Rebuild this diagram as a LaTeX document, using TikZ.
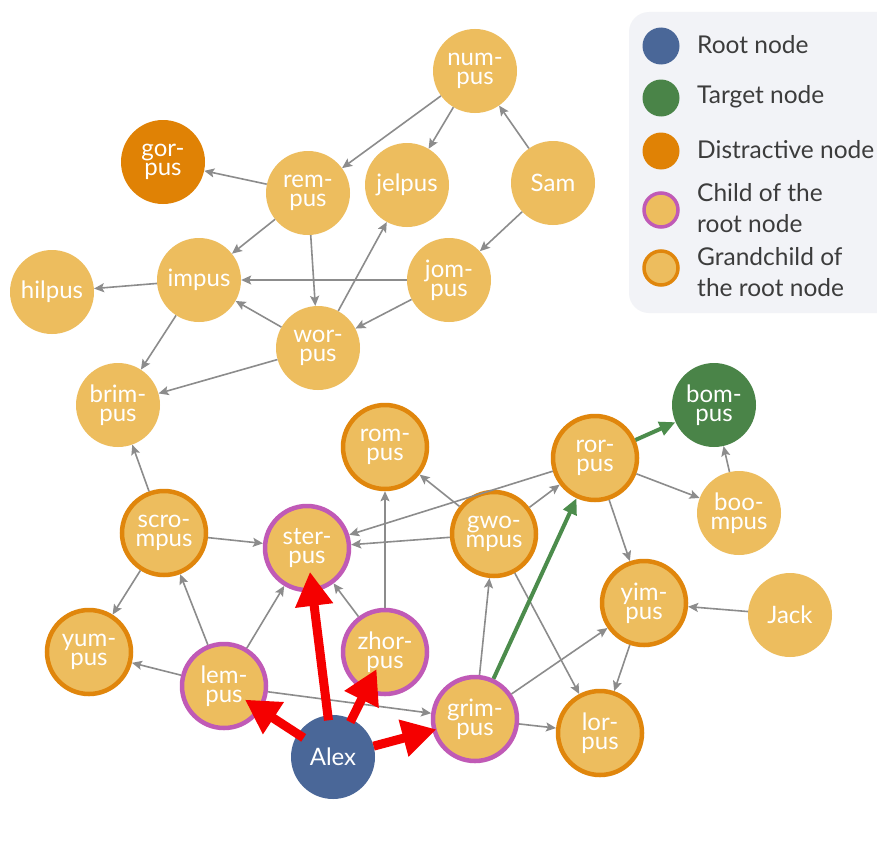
\documentclass[tikz,border=0pt]{standalone}
\usepackage{fontspec}
\setmainfont{Lato}
\usetikzlibrary{arrows.meta,calc}
\definecolor{nfill}{RGB}{237,189,94}
\definecolor{gborder}{RGB}{224,134,12}
\definecolor{cborder}{RGB}{192,90,182}
\definecolor{dfill}{RGB}{224,130,5}
\definecolor{tfill}{RGB}{74,132,72}
\definecolor{rfill}{RGB}{74,103,152}
\definecolor{edgegray}{RGB}{140,140,140}
\definecolor{redarr}{RGB}{245,0,0}
\definecolor{greenarr}{RGB}{76,140,76}
\definecolor{legbg}{RGB}{242,243,247}
\definecolor{legtext}{RGB}{60,60,60}
\begin{document}
\begin{tikzpicture}[x=1pt,y=-1pt,
  base/.style={circle, minimum size=84pt, inner sep=0pt, align=center, text=white, font=\fontsize{24}{19}\selectfont},
  plain/.style={base, fill=nfill},
  grand/.style={base, fill=nfill, draw=gborder, line width=4.5pt},
  child/.style={base, fill=nfill, draw=cborder, line width=4.5pt},
  distr/.style={base, fill=dfill},
  target/.style={base, fill=tfill},
  root/.style={base, fill=rfill},
  edge/.style={draw=edgegray, line width=1.6pt, -{Stealth[length=10pt,width=9pt,inset=2pt]}},
  redge/.style={draw=redarr, line width=9pt, -{Triangle[length=34pt,width=36pt]}},
  gedge/.style={draw=greenarr, line width=4pt, -{Triangle[length=16pt,width=14pt]}},
  legdot/.style={circle, minimum size=37pt, inner sep=0pt},
  legdotb/.style={circle, minimum size=34pt, inner sep=0pt, fill=nfill, line width=3.5pt},
  legtxt/.style={anchor=west, inner sep=0pt, align=left, text=legtext, font=\fontsize{24.5}{31}\selectfont},
]
\useasboundingbox (0,0) rectangle (877,843);
\fill[white] (0,0) rectangle (877,843);

% legend
\fill[legbg, rounded corners=20pt] (629,12) rectangle (897,313);
\node[legdot, fill=rfill] (l1) at (661,46) {};
\node[legdot, fill=tfill] (l2) at (661,98) {};
\node[legdot, fill=dfill] (l3) at (661,151) {};
\node[legdotb, draw=cborder] (l4) at (661,210) {};
\node[legdotb, draw=gborder] (l5) at (661,268) {};
\node[legtxt] (t1) at (697,45) {Root node};
\node[legtxt] (t2) at (697,97) {Target node};
\node[legtxt] (t3) at (697,150) {Distractive node};
\node[legtxt] (t4) at (697,208) {Child of the\\root node};
\node[legtxt] (t5) at (697,272) {Grandchild of\\the root node};

% nodes
\node[plain] (num) at (475,71) {num-\\pus};
\node[distr] (gor) at (163,162) {gor-\\pus};
\node[plain] (rem) at (308,193) {rem-\\pus};
\node[plain] (jel) at (407,185) {jelpus};
\node[plain] (sam) at (553,183) {Sam};
\node[plain] (hil) at (52,292) {hilpus};
\node[plain] (imp) at (199,280) {impus};
\node[plain] (jom) at (449,280) {jom-\\pus};
\node[plain] (wor) at (318,348) {wor-\\pus};
\node[plain] (brim) at (118,405) {brim-\\pus};
\node[grand] (rom) at (385,447) {rom-\\pus};
\node[grand] (ror) at (595,458) {ror-\\pus};
\node[target] (bom) at (714,405) {bom-\\pus};
\node[plain] (boo) at (739,513) {boo-\\mpus};
\node[grand] (scro) at (164,533) {scro-\\mpus};
\node[child] (ster) at (307,548) {ster-\\pus};
\node[grand] (gwo) at (494,534) {gwo-\\mpus};
\node[grand] (yim) at (644,603) {yim-\\pus};
\node[plain] (jack) at (790,615) {Jack};
\node[grand] (yum) at (89,652) {yum-\\pus};
\node[child] (lem) at (224,686) {lem-\\pus};
\node[child] (zhor) at (385,652) {zhor-\\pus};
\node[child] (grim) at (475,719) {grim-\\pus};
\node[grand] (lor) at (600,733) {lor-\\pus};
\node[root] (alex) at (333,757) {Alex};

% gray edges
\draw[edge] (num) -- (rem);
\draw[edge] (num) -- (jel);
\draw[edge] (sam) -- (num);
\draw[edge] (sam) -- (jom);
\draw[edge] (rem) -- (gor);
\draw[edge] (rem) -- (imp);
\draw[edge] (rem) -- (wor);
\draw[edge] (jom) -- (imp);
\draw[edge] (jom) -- (wor);
\draw[edge] (wor) -- (jel);
\draw[edge] (wor) -- (imp);
\draw[edge] (imp) -- (hil);
\draw[edge] (imp) -- (brim);
\draw[edge] (wor) -- (brim);
\draw[edge] (scro) -- (brim);
\draw[edge] (scro) -- (ster);
\draw[edge] (scro) -- (yum);
\draw[edge] (lem) -- (scro);
\draw[edge] (lem) -- (ster);
\draw[edge] (lem) -- (yum);
\draw[edge] (lem) -- (grim);
\draw[edge] (zhor) -- (ster);
\draw[edge] (zhor) -- (rom);
\draw[edge] (gwo) -- (rom);
\draw[edge] (gwo) -- (ster);
\draw[edge] (gwo) -- (ror);
\draw[edge] (ror) -- (ster);
\draw[edge] (gwo) -- (lor);
\draw[edge] (grim) -- (gwo);
\draw[edge] (grim) -- (yim);
\draw[edge] (grim) -- (lor);
\draw[edge] (ror) -- (boo);
\draw[edge] (ror) -- (yim);
\draw[edge] (boo) -- (bom);
\draw[edge] (jack) -- (yim);
\draw[edge] (yim) -- (lor);

% green path
\draw[draw=greenarr, line width=2pt] (alex) -- (grim);
\draw[gedge] (grim) -- (ror);
\draw[gedge] (ror) -- (bom);

% red arrows
\draw[redge] ($(alex)!37pt!(ster)$) -- ($(ster)!24pt!(alex)$);
\draw[redge] ($(alex)!35pt!(lem)$) -- ($(lem)!25pt!(alex)$);
\draw[redge] ($(alex)!39pt!(zhor)$) -- ($(zhor)!19pt!(alex)$);
\draw[redge] ($(alex)!42pt!(grim)$) -- ($(grim)!40pt!(alex)$);
\end{tikzpicture}
\end{document}
